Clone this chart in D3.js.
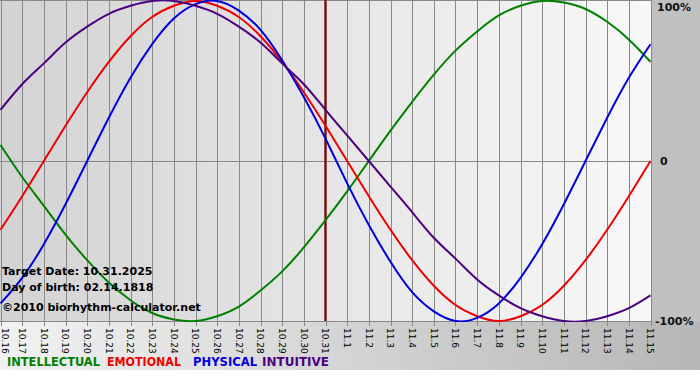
<!DOCTYPE html>
<html><head><meta charset="utf-8">
<script src="https://cdn.jsdelivr.net/npm/d3@7"></script>
<style>html,body{margin:0;padding:0;background:#fff}svg{display:block}</style>
</head><body>
<script>
const days = ["10.16","10.17","10.18","10.19","10.20","10.21","10.22","10.23","10.24","10.25","10.26","10.27","10.28","10.29","10.30","10.31",
  "11.1","11.2","11.3","11.4","11.5","11.6","11.7","11.8","11.9","11.10","11.11","11.12","11.13","11.14","11.15"];
const physical = [-0.89,-0.73,-0.52,-0.27,0,0.27,0.52,0.73,0.89,0.98,1.00,0.94,0.82,0.63,0.40,0.14,-0.14,-0.40,-0.63,-0.82,-0.94,-1.00,-0.98,-0.89,-0.73,-0.52,-0.27,0,0.27,0.52,0.73];
const emotional = [-0.43,-0.22,0,0.22,0.43,0.62,0.78,0.90,0.97,1.00,0.97,0.90,0.78,0.62,0.43,0.22,0,-0.22,-0.43,-0.62,-0.78,-0.90,-0.97,-1.00,-0.97,-0.90,-0.78,-0.62,-0.43,-0.22,0];
const intellectual = [0.10,-0.10,-0.28,-0.46,-0.62,-0.76,-0.87,-0.95,-0.99,-1.00,-0.97,-0.91,-0.81,-0.69,-0.54,-0.37,-0.19,0,0.19,0.37,0.54,0.69,0.81,0.91,0.97,1.00,0.99,0.95,0.87,0.76,0.62];
const intuitive = [0.32,0.48,0.61,0.74,0.84,0.92,0.97,1.00,1.00,0.97,0.92,0.84,0.74,0.61,0.48,0.32,0.16,0,-0.16,-0.32,-0.48,-0.61,-0.74,-0.84,-0.92,-0.97,-1.00,-1.00,-0.97,-0.92,-0.84];
const seriesNames = ["INTELLECTUAL","EMOTIONAL","PHYSICAL","INTUITIVE"];
const seriesColors = ["#008000","#ee0000","#0000dd","#4b0082"];
const yTickLabels = ["100%","0","-100%"];
const yTickValues = [1,0,-1];
const targetIndex = 15;
const infoLines = ["Target Date: 10.31.2025","Day of birth: 02.14.1818","\u00a92010 biorhythm-calculator.net"];

const W = 700, H = 380;
const svg = d3.select("body").append("svg").attr("width", W).attr("height", H);
const defs = svg.append("defs");
const g1 = defs.append("linearGradient").attr("id","plotbg").attr("x1","0").attr("x2","1").attr("y1","0").attr("y2","0");
g1.append("stop").attr("offset","0").attr("stop-color","#d3d3d3");
g1.append("stop").attr("offset","1").attr("stop-color","#f8f8f8");
const g2 = defs.append("linearGradient").attr("id","botbg").attr("x1","0").attr("x2","1").attr("y1","0").attr("y2","0");
g2.append("stop").attr("offset","0").attr("stop-color","#f2f2f2");
g2.append("stop").attr("offset","1").attr("stop-color","#b6b6b6");

const x = d3.scaleLinear().domain([0, days.length-1]).range([0.5, 650.5]);
const y = d3.scaleLinear().domain([-1,1]).range([321, 1]);

// backgrounds
svg.append("rect").attr("x",0).attr("y",321).attr("width",W).attr("height",49).attr("fill","url(#botbg)");
svg.append("rect").attr("x",651).attr("y",0).attr("width",49).attr("height",322).attr("fill","#c0c0c0");
svg.append("rect").attr("x",0).attr("y",0).attr("width",651).attr("height",321).attr("fill","url(#plotbg)");

// grid
const grid = svg.append("g").attr("stroke","#888").attr("stroke-width",1).attr("shape-rendering","crispEdges");
days.forEach((d,i)=>{
  grid.append("line").attr("x1",Math.round(x(i))+0.5).attr("x2",Math.round(x(i))+0.5).attr("y1",0).attr("y2",326);
});
grid.append("line").attr("x1",0).attr("x2",651).attr("y1",0.5).attr("y2",0.5);
grid.append("line").attr("x1",0).attr("x2",651).attr("y1",Math.round(y(0))+0.5).attr("y2",Math.round(y(0))+0.5);
grid.append("line").attr("x1",0).attr("x2",651).attr("y1",321.5).attr("y2",321.5);

// x tick labels
const xl = svg.append("g").attr("font-family","Verdana, 'DejaVu Sans', sans-serif").attr("font-size","9px").attr("fill","#000");
days.forEach((d,i)=>{
  xl.append("text").attr("transform",`translate(${Math.max(x(i),5)},328) rotate(90)`).attr("dy","0.35em").attr("text-anchor","start").text(d);
});

// target line
svg.append("line").attr("x1",x(targetIndex)).attr("x2",x(targetIndex)).attr("y1",0).attr("y2",321)
  .attr("stroke","#b56a6a").attr("stroke-width",3);
svg.append("line").attr("x1",x(targetIndex)).attr("x2",x(targetIndex)).attr("y1",0).attr("y2",321)
  .attr("stroke","#5e1010").attr("stroke-width",1.6);

// curves
const line = d3.line().x((d,i)=>x(i)).y(d=>y(d)).curve(d3.curveNatural);
const clip = defs.append("clipPath").attr("id","clip");
clip.append("rect").attr("x",0).attr("y",0).attr("width",651).attr("height",322);
const seriesData = [intellectual, emotional, physical, intuitive];
const cg = svg.append("g").attr("clip-path","url(#clip)");
seriesData.forEach((s,k)=>{
  cg.append("path").datum(s).attr("d",line).attr("fill","none").attr("stroke",seriesColors[k]).attr("stroke-width",2);
});

// y labels
const yl = svg.append("g").attr("font-family","Verdana, 'DejaVu Sans', sans-serif").attr("font-size","11px").attr("font-weight","bold").attr("fill","#111");
yTickValues.forEach((v,i)=>{
  let yy = y(v);
  if (v===1) yy = 7;
  yl.append("text").attr("x", v===0 ? 660 : (v===1 ? 657 : 655)).attr("y", yy).attr("dy","0.35em").text(yTickLabels[i]);
});

// info text
const it = svg.append("g").attr("font-family","Verdana, 'DejaVu Sans', sans-serif").attr("font-size","11px").attr("font-weight","bold").attr("fill","#000");
[275,291,311].forEach((yy,i)=>{ it.append("text").attr("x",2).attr("y",yy).text(infoLines[i]); });

// legend
const legendX = [7,107,193,262];
const legendW = [93,74,64,67];
const lg = svg.append("g").attr("font-family","Verdana, 'DejaVu Sans', sans-serif").attr("font-size","11.5px").attr("font-weight","bold");
seriesNames.forEach((n,k)=>{
  lg.append("text").attr("x",legendX[k]).attr("y",366).attr("fill",seriesColors[k])
    .attr("textLength",legendW[k]).attr("lengthAdjust","spacingAndGlyphs").text(n);
});
</script>
</body></html>
